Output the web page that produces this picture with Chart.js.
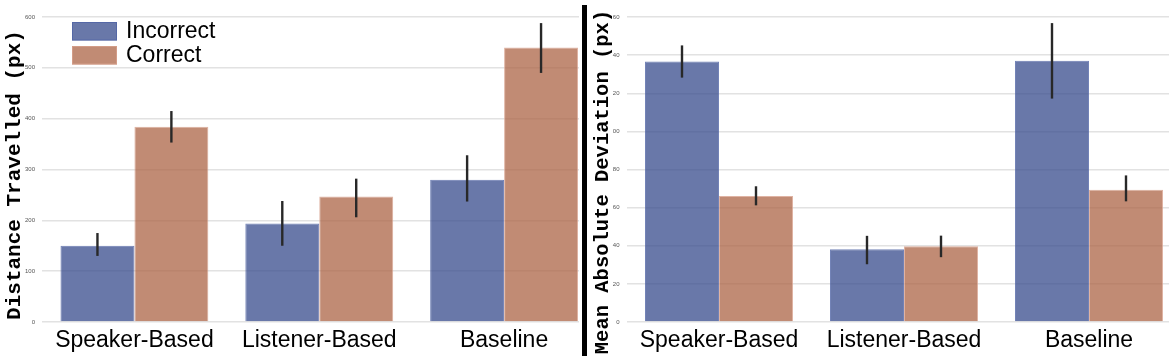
<!DOCTYPE html>
<html>
<head>
<meta charset="utf-8">
<script src="https://cdn.jsdelivr.net/npm/chart.js@4/dist/chart.umd.min.js"></script>
<style>
	body { margin: 0; background: #fff; }
	#wrap { position: relative; width: 1169px; height: 361px; overflow: hidden; }
	.panel { position: absolute; top: 0; height: 361px; overflow: hidden; }
	#leftPanel { left: 0; width: 579px; }
	#rightPanel { left: 588px; width: 581px; }
	#divider { position: absolute; left: 582px; top: 5px; width: 5px; height: 351px; background: #000; }
</style>
</head>
<body>
<div id="wrap">
	<div class="panel" id="leftPanel"><canvas id="distChart" width="600" height="361"></canvas></div>
	<div id="divider"></div>
	<div class="panel" id="rightPanel"><canvas id="madChart" width="600" height="361"></canvas></div>
</div>
<script>
// data
const categories = ['Speaker-Based', 'Listener-Based', 'Baseline'];
const seriesNames = ['Incorrect', 'Correct'];

const distIncorrect = [150, 194, 280];
const distIncorrectLow = [130, 150, 237];
const distIncorrectHigh = [175, 238, 328];
const distCorrect = [384, 247, 540];
const distCorrectLow = [353, 206, 490];
const distCorrectHigh = [415, 282, 588];

const madIncorrect = [136.6, 38.2, 137.1];
const madIncorrectLow = [128.2, 30.3, 117.2];
const madIncorrectHigh = [145.1, 45.2, 156.8];
const madCorrect = [66.1, 39.8, 69.4];
const madCorrectLow = [61.2, 34.0, 63.3];
const madCorrectHigh = [71.2, 45.3, 76.9];

// the right panel's tick labels are clipped in the original, shown as they appear
const madTickValues = [0, 20, 40, 60, 80, 100, 120, 140, 160];
const madTickLabels = ['0', '20', '40', '60', '80', '00', '20', '40', '60'];

const distTitle = 'Distance Travelled (px)';
const madTitle = 'Mean Absolute Deviation (px)';

const blueFill = 'rgba(55, 75, 140, 0.75)';
const orangeFill = 'rgba(172, 100, 70, 0.75)';

// error bars, drawn through the y scale
const errorBars = {
	id: 'errorBars',
	afterDatasetsDraw(chart) {
		const ctx = chart.ctx;
		const y = chart.scales.y;
		ctx.save();
		ctx.strokeStyle = 'rgb(40,40,40)';
		ctx.lineWidth = 2.4;
		chart.data.datasets.forEach((ds, di) => {
			const meta = chart.getDatasetMeta(di);
			meta.data.forEach((bar, i) => {
				ctx.beginPath();
				ctx.moveTo(bar.x, y.getPixelForValue(ds.errLow[i]));
				ctx.lineTo(bar.x, y.getPixelForValue(ds.errHigh[i]));
				ctx.stroke();
			});
		});
		ctx.restore();
	}
};

// legend in the top-left corner of the left plot
const cornerLegend = {
	id: 'cornerLegend',
	afterDraw(chart) {
		if (!chart.options.plugins.cornerLegend.show) return;
		const ctx = chart.ctx;
		ctx.save();
		ctx.font = '23px "Liberation Sans", Arial, sans-serif';
		ctx.textBaseline = 'middle';
		chart.data.datasets.forEach((ds, i) => {
			const top = 22 + i * 24;
			ctx.fillStyle = ds.backgroundColor;
			ctx.fillRect(72, top, 45, 18.5);
			ctx.strokeStyle = ds.borderColor;
			ctx.lineWidth = 1;
			ctx.strokeRect(72.5, top + 0.5, 44, 17.5);
			ctx.fillStyle = '#000';
			ctx.fillText(ds.label, 126, top + 10);
		});
		ctx.restore();
	}
};

// rotated y title, placed a bit off the chart-area centre like the original
const sideTitle = {
	id: 'sideTitle',
	afterDraw(chart) {
		const o = chart.options.plugins.sideTitle;
		const ctx = chart.ctx;
		ctx.save();
		ctx.translate(o.x, o.y);
		ctx.rotate(-Math.PI / 2);
		ctx.font = 'bold ' + o.size + 'px "Liberation Mono", "Courier New", monospace';
		ctx.fillStyle = '#000';
		ctx.textAlign = 'center';
		ctx.textBaseline = 'middle';
		ctx.fillText(o.text, 0, 0);
		ctx.restore();
	}
};

function makeDatasets(inc, incLow, incHigh, cor, corLow, corHigh) {
	return [
		{
			label: seriesNames[0],
			data: inc,
			errLow: incLow,
			errHigh: incHigh,
			backgroundColor: blueFill,
			borderColor: 'rgba(80, 100, 165, 0.8)',
			borderWidth: 1
		},
		{
			label: seriesNames[1],
			data: cor,
			errLow: corLow,
			errHigh: corHigh,
			backgroundColor: orangeFill,
			borderColor: 'rgba(215, 160, 140, 0.8)',
			borderWidth: 1
		}
	];
}

function makeChart(canvasId, datasets, yOpts) {
	return new Chart(document.getElementById(canvasId), {
		type: 'bar',
		data: { labels: categories, datasets: datasets },
		plugins: [errorBars, cornerLegend, sideTitle],
		options: {
			responsive: false,
			animation: false,
			layout: { padding: { top: 17, right: yOpts.padRight, left: 0, bottom: 0 } },
			datasets: { bar: { categoryPercentage: 0.8, barPercentage: 1 } },
			plugins: {
				legend: { display: false },
				tooltip: { enabled: false },
				cornerLegend: { show: yOpts.legend },
				sideTitle: yOpts.title
			},
			scales: {
				x: {
					grid: { display: false, drawTicks: false },
					border: { display: false },
					ticks: {
						color: '#000',
						padding: 5,
						maxRotation: 0,
						font: { family: '"Liberation Sans", Arial, sans-serif', size: 23 }
					},
					afterFit(scale) { scale.height = 39; }
				},
				y: {
					min: 0,
					max: yOpts.max,
					afterBuildTicks: yOpts.afterBuildTicks,
					grid: { color: 'rgb(226,226,226)', lineWidth: 1.4, drawTicks: false },
					border: { display: false },
					ticks: {
						stepSize: yOpts.step,
						color: '#555',
						padding: 7,
						font: { family: '"Liberation Sans", Arial, sans-serif', size: 6 },
						callback: yOpts.tickCallback
					},
					afterFit(scale) { scale.width = yOpts.axisWidth; }
				}
			}
		}
	});
}

makeChart('distChart',
	makeDatasets(distIncorrect, distIncorrectLow, distIncorrectHigh, distCorrect, distCorrectLow, distCorrectHigh),
	{
		max: 600, step: 100,
		title: { text: distTitle, x: 14.5, y: 175, size: 21 },
		axisWidth: 42, padRight: 3.5, legend: true,
		tickCallback: (v) => v
	});

makeChart('madChart',
	makeDatasets(madIncorrect, madIncorrectLow, madIncorrectHigh, madCorrect, madCorrectLow, madCorrectHigh),
	{
		max: 160, step: 20,
		title: { text: madTitle, x: 15, y: 182, size: 20.5 },
		axisWidth: 38.5, padRight: 6.5, legend: false,
		afterBuildTicks: (scale) => { scale.ticks = madTickValues.map((v) => ({ value: v })); },
		tickCallback: (v) => madTickLabels[madTickValues.indexOf(v)]
	});
</script>
</body>
</html>
